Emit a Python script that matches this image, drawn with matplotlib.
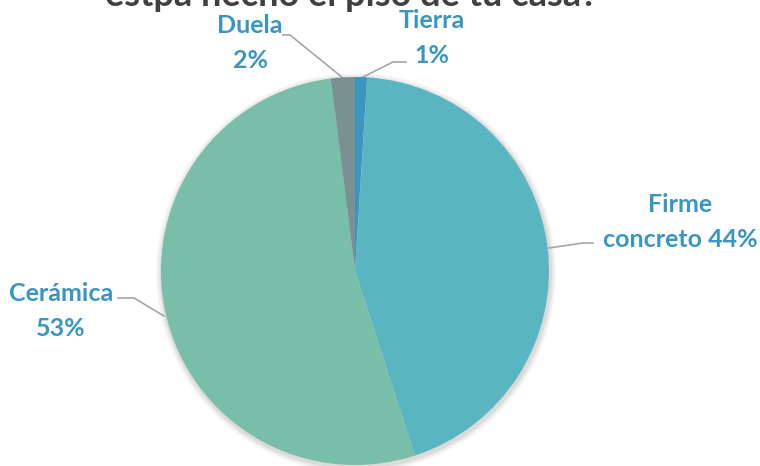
import matplotlib.pyplot as plt

# datos de la gráfica
categorias = ['Tierra', 'Firme concreto', 'Cerámica', 'Duela']
porcentajes = [1, 44, 53, 2]
colores = ['#3a96c1', '#59b6c0', '#79bea8', '#7a9192']

titulo = 'estpa hecho el piso de tu casa?'

plt.rcParams['font.family'] = ['Lato', 'DejaVu Sans']

W, H = 760, 466
fig = plt.figure(figsize=(W / 100, H / 100), dpi=100)
ax = fig.add_axes([0, 0, 1, 1])

cx, cy, r = 355, H - 271, 194

# sombra suave alrededor del pastel
for i, a in enumerate([0.05, 0.04, 0.03, 0.02]):
    ax.add_patch(plt.Circle((cx + 1, cy - 2), r + 2 + i * 1.5, color='black', alpha=a, lw=0, zorder=0))

ax.pie(porcentajes, colors=colores, startangle=90, counterclock=False,
       center=(cx, cy), radius=r, frame=True,
       wedgeprops={'linewidth': 0, 'zorder': 2})
ax.set_xlim(0, W)
ax.set_ylim(0, H)
ax.set_aspect('equal')
ax.axis('off')

color_txt = '#3a96c1'
linea = '#a6a6a6'
fs = 18

# etiquetas: texto y líneas guía (coordenadas en pixeles de la imagen)
etiquetas = [
    ('Tierra\n%d%%' % porcentajes[0], (432, 38), [(359, 79), (393, 62), (406, 62)]),
    ('Firme\nconcreto %d%%' % porcentajes[1], (680, 222), [(549, 248), (583, 243), (593, 243)]),
    ('Cerámica\n%d%%' % porcentajes[2], (61, 311), [(164, 316), (134, 298), (118, 298)]),
    ('Duela\n%d%%' % porcentajes[3], (250, 43), [(343, 78), (290, 35), (283, 35)]),
]
for texto, (tx, ty), pts in etiquetas:
    ax.text(tx, H - ty, texto, ha='center', va='center', fontsize=fs,
            fontweight='bold', color=color_txt, linespacing=1.6, zorder=5)
    ax.plot([p[0] for p in pts], [H - p[1] for p in pts], color=linea, lw=1.2, zorder=1)

# el título aparece recortado en el borde superior, como en la original
ax.text(351, H - 6, titulo, ha='center', va='baseline', fontsize=26,
        fontweight='bold', color='#404040', zorder=5, clip_on=False)

fig.savefig('out.png', dpi=100)
